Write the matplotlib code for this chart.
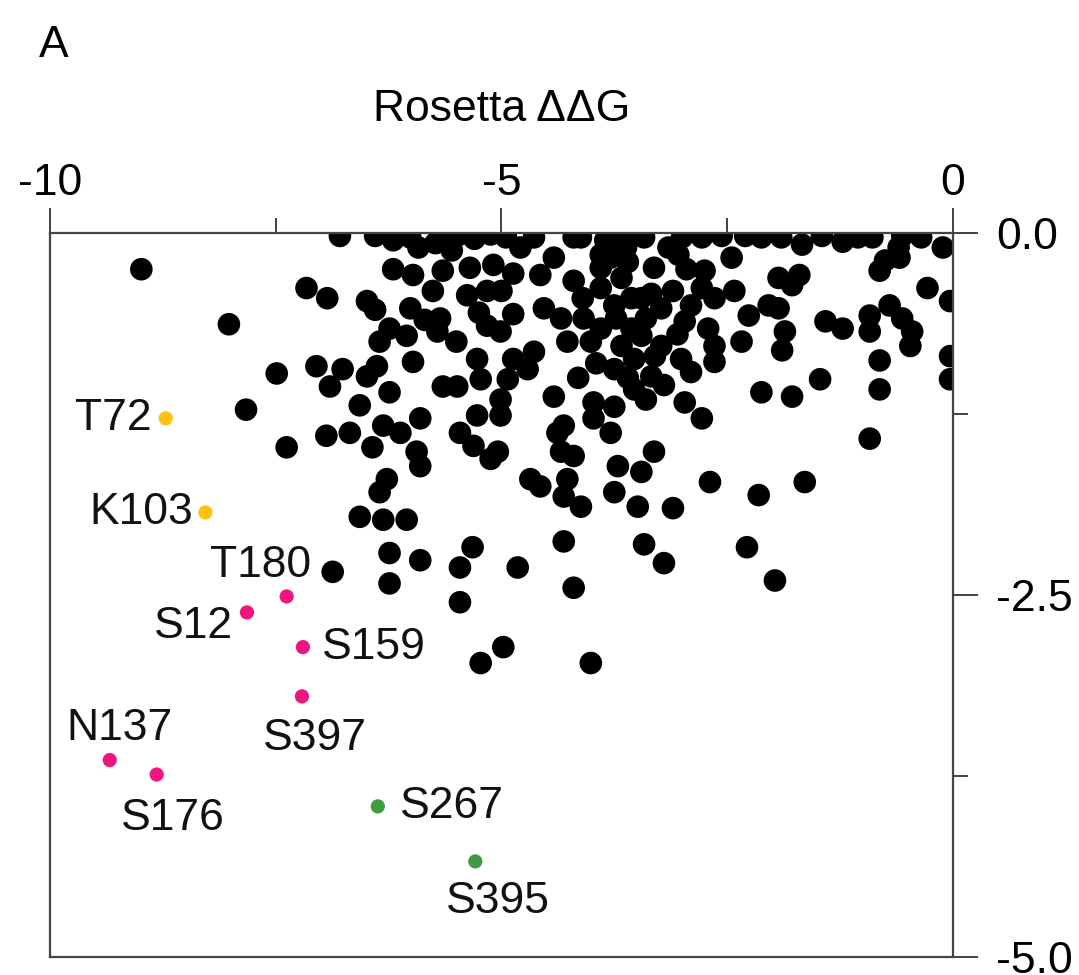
import matplotlib
matplotlib.use('Agg')
import matplotlib.pyplot as plt
import numpy as np

plt.rcParams['font.family'] = ['Liberation Sans', 'DejaVu Sans']

# ============ 数据 ============
# 背景突变（黑点）：Rosetta ΔΔG 与纵轴得分
bg_ddg = [
    -8.99, -8.02, -7.16, -6.93, -7.49, -7.05, -6.76, -6.90, -7.83, -7.38,
    -6.94, -6.68, -6.43, -6.31, -6.12, -5.94, -5.90, -6.27, -6.35, -6.57,
    -6.31, -6.05, -6.87, -6.24, -5.90, -6.24, -5.32, -5.46, -5.46, -4.82,
    -4.31, -4.20, -4.98, -5.23, -4.01,
    -6.79, -6.40, -6.01, -5.92, -5.73, -5.46, -5.12, -4.79, -4.64, -4.42,
    -4.20, -3.90, -3.71, -6.49, -6.40, -5.98, -5.65, -5.76, -6.01, -5.35,
    -5.09, -4.87, -5.38, -5.16, -4.57, -4.20, -3.90, -4.87, -5.16, -5.01,
    -4.53, -4.34, -4.09, -4.01, -4.27, -3.75, -6.24, -6.35, -6.05, -5.71,
    -5.68, -6.49, -6.38, -5.98, -6.24, -6.57, -5.65, -5.49, -5.27, -5.23,
    -4.87, -4.93, -5.01, -4.71, -4.64, -4.42, -3.98, -3.98, -3.75, -3.53,
    -5.90, -5.46, -5.31, -5.27, -5.01, -5.04, -4.31, -4.34, -3.79, -3.71,
    -5.12, -4.68, -4.57, -4.38, -4.20, -4.27, -4.31, -4.12, -3.45, -3.75,
    -3.49, -3.42,
    -3.42, -3.15, -1.67, -1.22, -0.11, -3.04, -2.45, -3.31, -3.67, -3.56,
    -3.40, -2.75, -2.78, -2.42, -2.64, -1.93, -1.70, -1.78, -0.75, -0.59,
    -0.81, -0.28, -0.03, -2.26, -2.04, -1.93, -2.97, -2.71, -2.64, -2.64,
    -2.34, -1.86, -1.89, -1.41, -1.22, -0.92, -0.92, -0.70, -0.56, -0.45,
    -0.47, -0.81, -0.03, -0.03, -3.67, -3.45, -3.23, -3.53, -3.34, -3.01,
    -2.90, -2.97, -2.78, -2.12, -1.78, -1.47, -0.81, -0.92, -3.31, -2.69,
    -2.15, -1.64, -2.28, -1.97, -3.20, -3.10,
    -3.79, -3.62, -3.90, -3.73, -3.34, -3.23, -3.90, -3.56,
    -2.78, -2.56, -2.12, -0.89, -0.56, -4.12, -5.68,
    -4.10, -3.95, -3.60, -3.40, -3.20, -3.05, -3.60, -3.45, -2.90, -3.75,
    -4.15, -3.30, -2.95, -3.85, -3.10,
    -5.55, -5.25, -5.50, -5.85, -6.20, -5.00,
    -6.20, -5.30, -4.95, -3.55, -3.00, -2.30, -1.90, -1.45, -1.05, -0.35,
    -0.60,
]
bg_score = [
    -0.25, -0.63, -0.38, -0.45, -0.97, -0.92, -0.94, -1.06, -1.22, -1.48,
    -1.40, -1.38, -1.48, -1.33, -1.38, -1.51, -1.61, -1.70, -1.79, -1.96,
    -1.98, -1.98, -2.34, -2.21, -2.26, -2.42, -2.17, -2.31, -2.55, -2.31,
    -2.13, -2.45, -2.86, -2.97, -2.97,
    -0.02, -0.02, -0.03, -0.10, -0.07, -0.01, -0.01, -0.10, -0.03, -0.17,
    -0.03, -0.15, -0.03, -0.47, -0.53, -0.29, -0.26, -0.40, -0.52, -0.24,
    -0.22, -0.28, -0.43, -0.40, -0.29, -0.33, -0.24, -0.56, -0.64, -0.68,
    -0.52, -0.59, -0.59, -0.75, -0.75, -0.50, -0.66, -0.75, -0.71, -0.68,
    -0.59, -0.99, -0.92, -0.89, -1.10, -1.19, -1.06, -1.06, -0.87, -1.01,
    -0.87, -1.01, -1.15, -0.94, -0.82, -1.13, -1.17, -1.28, -0.94, -1.08,
    -1.28, -1.38, -1.47, -1.26, -1.26, -1.51, -1.33, -1.51, -1.38, -1.61,
    -1.56, -1.70, -1.75, -1.38, -1.54, -1.70, -1.82, -1.89, -1.65, -1.79,
    -1.89, -2.15,
    -0.03, -0.10, -0.08, -0.06, -0.10, -0.15, -0.17, -0.24, -0.31, -0.45,
    -0.59, -0.26, -0.38, -0.40, -0.45, -0.31, -0.29, -0.36, -0.19, -0.17,
    -0.26, -0.38, -0.47, -0.57, -0.50, -0.52, -0.61, -0.66, -0.78, -0.89,
    -0.75, -0.68, -0.81, -0.61, -0.66, -0.57, -0.68, -0.50, -0.59, -0.68,
    -0.78, -0.88, -0.85, -1.01, -0.78, -0.71, -0.78, -0.87, -0.99, -0.87,
    -0.96, -1.17, -1.28, -1.10, -1.13, -1.01, -1.08, -1.42, -1.51, -1.72,
    -1.81, -1.72, -2.17, -2.40, -2.28, -1.90,
    -0.17, -0.10, -0.38, -0.59, -0.42, -0.52, -0.66, -0.66,
    -0.03, -0.02, -0.03, -0.03, -0.02, -0.03, -0.02,
    -0.45, -0.90, -1.00, -1.15, -1.05, -0.70, -0.20, -0.45, -0.50, -1.20,
    -1.00, -0.85, -0.25, -0.05, -0.40,
    -0.12, -0.55, -0.75, -0.60, -0.25, -0.40,
    -0.05, -0.04, -0.03, -0.02, -0.03, -0.02, -0.03, -0.02, -0.03, -0.03,
    -0.10,
]

# 标注突变位点
sites = ['T72', 'K103', 'T180', 'S12', 'S159', 'S397', 'N137', 'S176', 'S267', 'S395']
site_ddg = [-8.72, -8.28, -7.38, -7.82, -7.20, -7.21, -9.34, -8.82, -6.37, -5.29]
site_score = [-1.28, -1.93, -2.51, -2.62, -2.86, -3.20, -3.64, -3.74, -3.96, -4.34]
site_group = ['yellow', 'yellow', 'pink', 'pink', 'pink', 'pink', 'pink', 'pink', 'green', 'green']

group_colors = {'yellow': '#FFC20E', 'pink': '#F0157F', 'green': '#3E9B41'}

# 标签位置（偏移 pt, ha）
label_pos = {
    'T72': (-10, 0, 'right'),
    'K103': (-9, 0, 'right'),
    'T180': (-19, 22, 'center'),
    'S12': (-10, -10, 'right'),
    'S159': (14, 0, 'left'),
    'S397': (9, -30, 'center'),
    'N137': (7, 23, 'center'),
    'S176': (12, -32, 'center'),
    'S267': (16, 0, 'left'),
    'S395': (16, -29, 'center'),
}

FS = 32

# ============ 绘图 ============
fig = plt.figure(figsize=(10.79, 9.75), dpi=100)
ax = fig.add_axes([0.0465, 0.0185, 0.8365, 0.7425])

ax.scatter(bg_ddg, bg_score, s=265, color='black', edgecolors='none', zorder=2)

for name, x, y, g in zip(sites, site_ddg, site_score, site_group):
    ax.scatter([x], [y], s=105, color=group_colors[g], edgecolors='none', zorder=3)
    dx, dy, ha = label_pos[name]
    ax.annotate(name, (x, y), xytext=(dx, dy), textcoords='offset points',
                ha=ha, va='center', fontsize=FS, color='#111111')

ax.set_xlim(-10, 0)
ax.set_ylim(-5, 0)

ax.xaxis.tick_top()
ax.yaxis.tick_right()
ax.set_xticks([-10, -5, 0])
ax.set_xticklabels(['-10', '-5', '0'])
ax.set_xticks([-7.5, -2.5], minor=True)
ax.set_yticks([0, -2.5, -5])
ax.set_yticklabels(['0.0', '-2.5', '-5.0'])
ax.set_yticks([-1.25, -3.75], minor=True)

ax.tick_params(which='major', length=18, width=1.3, color='#333333',
               labelsize=FS, pad=3)
ax.tick_params(axis='y', which='major', pad=13)
ax.tick_params(which='minor', length=11, width=1.3, color='#333333')

for sp in ax.spines.values():
    sp.set_linewidth(1.6)
    sp.set_color('#444444')

ax.xaxis.set_label_position('top')
ax.set_xlabel('Rosetta ΔΔG', fontsize=FS, labelpad=30)

fig.text(0.036, 0.953, 'A', fontsize=FS, ha='left', va='center')

plt.savefig('out.png', dpi=100)
plt.close()
